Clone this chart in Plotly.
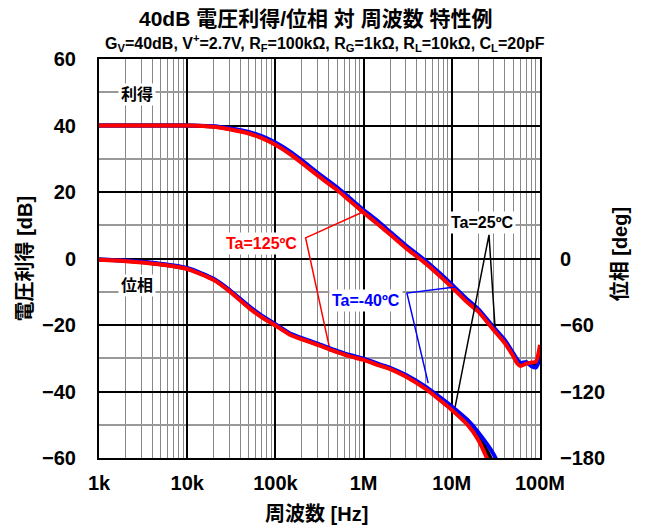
import math
import plotly.graph_objects as go

# ---------------- data ----------------
freq_hz = [1e3, 2e3, 5e3, 1e4, 2e4, 3e4, 5e4, 7e4, 1e5, 1.5e5, 2e5, 3e5, 5e5, 7e5,
           1e6, 1.5e6, 2e6, 3e6, 5e6, 7e6, 1e7, 1.5e7, 2e7, 3e7, 4e7, 5e7, 5.5e7,
           6e7, 7e7, 8e7, 9e7, 1e8]

gain_125 = [40.0, 40.0, 40.0, 40.0, 39.6, 38.9, 37.6, 36.2, 34.2, 31.2, 28.7, 25.0,
            20.6, 17.3, 13.8, 10.0, 7.2, 3.2, -1.4, -4.8, -8.6, -13.2, -16.0, -21.6,
            -25.5, -29.5, -31.5, -32.3, -31.6, -31.3, -31.0, -26.0]
gain_m40 = [40.0, 40.0, 40.0, 40.0, 39.8, 39.2, 38.1, 36.8, 34.9, 32.0, 29.5, 25.8,
            21.4, 18.1, 14.6, 10.9, 8.0, 4.0, -0.6, -4.0, -7.8, -12.3, -15.2, -20.8,
            -24.6, -28.6, -30.4, -31.4, -31.2, -32.4, -32.8, -30.0]
gain_25 = [40.0, 40.0, 40.0, 40.0, 39.7, 39.0, 37.8, 36.5, 34.5, 31.6, 29.1, 25.4,
           21.0, 17.7, 14.2, 10.4, 7.6, 3.6, -1.0, -4.4, -8.2, -12.7, -15.6, -21.1,
           -25.0, -29.0, -30.9, -31.8, -31.3, -31.9, -32.1, -28.0]

phase_125 = [-1.2, -2.4, -5.5, -9.5, -19.5, -29.5, -44.5, -53.0, -60.5, -69.3, -73.0,
             -78.0, -84.5, -88.3, -91.5, -96.5, -99.8, -106.5, -117.5, -126.5, -136.6,
             -149.8, -163.8, -195.0, -225.0, None, None, None, None, None, None, None]
phase_m40 = [-0.9, -1.9, -4.8, -8.6, -18.3, -28.2, -43.0, -51.6, -59.2, -68.0, -71.8,
             -76.8, -83.3, -87.1, -90.3, -95.3, -98.6, -105.0, -115.5, -124.0, -133.5,
             -145.5, -157.0, -177.0, -200.0, None, None, None, None, None, None, None]
phase_25 = [-1.0, -2.1, -5.1, -9.0, -18.9, -28.8, -43.7, -52.3, -59.8, -68.6, -72.4,
            -77.4, -83.9, -87.7, -90.9, -95.9, -99.2, -105.7, -116.5, -125.2, -135.0,
            -147.5, -160.0, -186.0, -212.0, None, None, None, None, None, None, None]

x_tick_vals = [1e3, 1e4, 1e5, 1e6, 1e7, 1e8]
x_tick_text = ["1k", "10k", "100k", "1M", "10M", "100M"]
y_tick_vals = [-60, -40, -20, 0, 20, 40, 60]
y2_tick_vals = [0, -60, -120, -180]

# leader lines (gain point -> label -> phase point), in Hz / dB
lead_125_f = [9.8e5, 2.2e5, 4.2e5]
lead_125_db = [14.0, 6.2, -28.1]
lead_m40_f = [1.09e7, 3.1e6, 5.4e6]
lead_m40_db = [-8.6, -10.4, -37.5]
lead_25_f = [3.09e7, 2.64e7, 1.09e7]
lead_25_db = [-20.6, 7.1, -44.7]

# ---------------- figure ----------------
FONT = "Liberation Sans, Arial, Noto Sans CJK JP, sans-serif"
RED, BLUE, BLACK = "#ff0000", "#0000ff", "#000000"

fig = go.Figure()

for g, p, c in [(gain_25, phase_25, BLACK), (gain_m40, phase_m40, BLUE),
                (gain_125, phase_125, RED)]:
    fig.add_trace(go.Scatter(x=freq_hz, y=g, mode="lines",
                             line=dict(color=c, width=4, shape="spline", smoothing=0.6),
                             showlegend=False, yaxis="y"))
    fig.add_trace(go.Scatter(x=freq_hz, y=p, mode="lines",
                             line=dict(color=c, width=4, shape="spline", smoothing=0.6),
                             showlegend=False, yaxis="y2"))

for lf, ld, c in [(lead_125_f, lead_125_db, RED), (lead_m40_f, lead_m40_db, BLUE),
                  (lead_25_f, lead_25_db, BLACK)]:
    fig.add_trace(go.Scatter(x=lf, y=ld, mode="lines", line=dict(color=c, width=1.5),
                             showlegend=False, yaxis="y"))

minor_x = [m * 10 ** e for e in range(3, 8) for m in range(2, 10)]

# the page body adds an 8px margin, so the figure is 8px smaller than the window
fig.update_layout(
    width=637, height=524,
    margin=dict(l=91, r=105, t=51, b=74, autoexpand=False),
    paper_bgcolor="white", plot_bgcolor="white",
    font=dict(family=FONT, color="black", size=20, weight="bold"),
    xaxis=dict(type="log", range=[3, 8], tickmode="array", tickvals=x_tick_vals,
               ticktext=x_tick_text, showgrid=True, gridcolor="black", gridwidth=1.5,
               minor=dict(tickmode="array", tickvals=minor_x, showgrid=True,
                          gridcolor="#888888", gridwidth=1, ticks=""),
               showline=True, linecolor="black", linewidth=2, mirror=True, ticks="",
               tickfont=dict(size=20, weight="bold"), ticklabelstandoff=6, zeroline=False),
    yaxis=dict(range=[-60, 60], tickmode="array", tickvals=y_tick_vals, showgrid=True,
               gridcolor="black", gridwidth=1.5,
               minor=dict(tickmode="array", tickvals=[-50, -30, -10, 10, 30, 50],
                          showgrid=True, gridcolor="#999999", gridwidth=1.5, ticks=""),
               showline=True, linecolor="black", linewidth=2, ticks="", zeroline=False,
               tickfont=dict(size=20, weight="bold"), ticklabelstandoff=17),
    yaxis2=dict(range=[-180, 180], overlaying="y", side="right", tickmode="array",
                tickvals=y2_tick_vals, showgrid=False, zeroline=False, showline=True,
                linecolor="black", linewidth=2, ticks="",
                tickfont=dict(size=20, weight="bold"), ticklabelstandoff=14),
)

ann = []
pa = dict(xref="paper", yref="paper", xanchor="center", yanchor="middle", showarrow=False)
ann.append(dict(text="40dB 電圧利得/位相 対 周波数 特性例", x=0.492, y=1.102,
                font=dict(size=21, weight="bold"), **pa))
ann.append(dict(text="G<sub>V</sub>=40dB, V<sup>+</sup>=2.7V, R<sub>F</sub>=100kΩ, R<sub>G</sub>=1kΩ, "
                     "R<sub>L</sub>=10kΩ, C<sub>L</sub>=20pF",
                x=0.512, y=1.04, font=dict(size=16, weight="bold"), **pa))
ann.append(dict(text="周波数 [Hz]", x=0.494, y=-0.14, font=dict(size=20, weight="bold"), **pa))
ann.append(dict(text="電圧利得 [dB]", x=-0.168, y=0.5, textangle=-90,
                font=dict(size=20, weight="bold"), **pa))
ann.append(dict(text="位相 [deg]", x=1.181, y=0.51, textangle=-90,
                font=dict(size=20, weight="bold"), **pa))
# in-plot labels
for txt, f, db, c in [("利得", 2.7e3, 49.2, BLACK), ("位相", 2.7e3, -8.0, BLACK),
                      ("Ta=125ºC", 7.0e4, 4.65, RED), ("Ta=-40ºC", 1.07e6, -12.5, BLUE),
                      ("Ta=25ºC", 2.19e7, 10.8, BLACK)]:
    ann.append(dict(text=txt, x=math.log10(f), y=db, xref="x", yref="y", showarrow=False,
                    bgcolor="white", borderpad=2, font=dict(size=16, color=c, weight="bold")))
fig.update_layout(annotations=ann)

fig.write_html("out.html")
